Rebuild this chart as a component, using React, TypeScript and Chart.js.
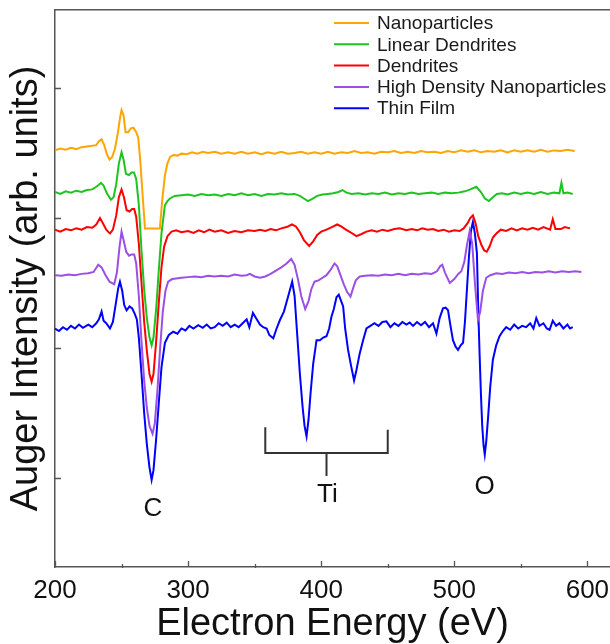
import React, { useEffect, useRef } from 'react';
import { Chart, registerables } from 'chart.js';

Chart.register(...registerables);

const FONT = "'Liberation Sans', Arial, Helvetica, sans-serif";

// ---- data (x: electron energy in eV, y: Auger intensity in arb. units, offset per sample) ----
const SERIES_NAMES = ['Nanoparticles', 'Linear Dendrites', 'Dendrites', 'High Density Nanoparticles', 'Thin Film'];
const SERIES_COLORS = ['#FFA500', '#1EC41E', '#FF0000', '#9B4FE6', '#0000FF'];

const NANOPARTICLES: [number, number][] = [
  [200, 25.2], [204, 25.35], [208, 25.25], [212, 25.4], [216, 25.3], [220, 25.45], [224, 25.5], [228, 25.55],
  [231, 25.6], [233, 25.9], [235, 26.05], [237, 25.6], [239, 24.9], [241, 24.5], [243, 24.7], [245, 25.3],
  [247, 26.4], [249, 27.8], [250, 28.3], [251.5, 27.9], [253, 26.6], [255, 26.6], [257, 26.9], [259, 26.95],
  [261, 26.6], [262.5, 26.2], [264, 24.5], [266, 21.5], [267.6, 19.2], [278.8, 19.2], [280.5, 21.3], [282.6, 23.3],
  [284.5, 24.2], [286.5, 24.7], [289, 24.85], [292, 24.8], [295, 24.95], [299, 24.9], [303, 25.05], [307, 24.95],
  [311, 25.1], [315, 25.0], [320, 25.1], [325, 24.95], [330, 25.05], [335, 24.95], [340, 25.1], [345, 24.95],
  [350, 25.05], [355, 24.9], [360, 25.05], [365, 24.95], [370, 25.1], [375, 24.95], [380, 25.0], [385, 25.1],
  [390, 24.95], [395, 25.05], [400, 24.95], [405, 25.1], [410, 24.95], [415, 25.05], [420, 25.0], [425, 25.15],
  [430, 25.0], [435, 25.05], [440, 24.95], [445, 25.1], [450, 25.05], [455, 25.15], [460, 25.0], [465, 25.1],
  [470, 25.0], [475, 25.15], [480, 25.05], [485, 25.1], [490, 25.0], [495, 25.15], [500, 25.05], [505, 25.2],
  [510, 25.1], [515, 25.2], [520, 25.05], [525, 25.15], [530, 25.1], [535, 25.2], [540, 25.05], [545, 25.2],
  [550, 25.1], [555, 25.2], [560, 25.1], [565, 25.25], [570, 25.1], [575, 25.2], [580, 25.15], [585, 25.25],
  [590.5, 25.15],
];

const LINEAR_DENDRITES: [number, number][] = [
  [200, 22.0], [204, 21.85], [208, 22.05], [212, 21.95], [216, 22.1], [220, 22.0], [224, 22.15], [228, 22.2],
  [231, 22.4], [233, 22.55], [234.5, 22.7], [236.5, 22.5], [239, 21.9], [242, 21.4], [244, 21.6], [246, 22.6],
  [248, 24.2], [250, 25.05], [251.5, 24.5], [253.3, 23.4], [255.5, 23.3], [257.5, 23.5], [259.3, 23.5], [261, 23.0],
  [263, 21.0], [265, 17.5], [267, 14.5], [269, 12.3], [271, 10.8], [272.6, 10.2], [274, 10.8], [276, 13.0],
  [278, 16.0], [280, 18.8], [282.6, 21.0], [284.5, 21.3], [286.3, 21.5], [290, 21.7], [295, 21.75], [300, 21.8],
  [305, 21.7], [310, 21.85], [315, 21.75], [320, 21.8], [325, 21.7], [330, 21.85], [335, 21.75], [340, 21.9],
  [345, 21.75], [350, 21.85], [355, 21.7], [360, 21.85], [365, 21.8], [370, 21.9], [375, 21.8], [380, 21.85],
  [384, 21.7], [387, 21.5], [390, 21.3], [393, 21.45], [397, 21.7], [401, 21.8], [405, 21.85], [409, 21.9],
  [413, 22.0], [416, 22.15], [419, 21.95], [423, 21.85], [428, 21.9], [433, 21.8], [438, 21.9], [443, 21.85],
  [448, 21.95], [453, 21.8], [458, 21.9], [463, 21.85], [468, 21.95], [473, 21.85], [478, 21.9], [483, 21.95],
  [488, 21.85], [493, 21.95], [498, 21.9], [503, 21.95], [508, 22.05], [512, 22.2], [516.6, 22.4], [520, 22.0],
  [523, 21.5], [526, 21.3], [529, 21.6], [532, 21.85], [536, 21.9], [540, 21.8], [545, 21.95], [550, 21.85],
  [555, 21.95], [560, 21.85], [565, 22.0], [570, 21.85], [575, 21.95], [579, 21.9], [580.5, 22.7], [582, 21.9],
  [585, 21.95], [589, 21.85],
];

const DENDRITES: [number, number][] = [
  [200, 19.1], [204, 18.95], [208, 19.15], [212, 19.05], [216, 19.2], [220, 19.1], [224, 19.3], [228, 19.25],
  [231, 19.5], [233.8, 20.0], [236, 19.6], [238.5, 19.1], [241.3, 18.8], [243.5, 19.1], [246, 20.2], [248, 21.6],
  [250, 22.2], [251.8, 21.6], [253.8, 20.6], [256, 20.5], [258, 20.7], [259.5, 20.7], [261, 20.1], [263, 18.0],
  [265, 15.0], [267, 12.0], [269, 9.8], [271, 8.0], [272.6, 7.4], [274, 8.0], [276, 10.5], [278, 13.5],
  [280, 16.2], [282, 17.8], [284.5, 18.6], [287.6, 18.95], [291, 19.05], [295, 18.9], [300, 19.0], [304, 18.85],
  [308, 19.05], [312, 18.9], [316, 19.1], [320, 18.95], [325, 19.05], [330, 18.85], [335, 19.0], [340, 18.9],
  [345, 19.05], [350, 19.0], [354, 19.1], [358, 19.0], [362, 19.15], [366, 19.05], [370, 19.2], [374, 19.3],
  [378, 19.5], [381, 19.35], [384, 18.9], [387, 18.3], [391, 17.85], [394, 18.2], [397, 18.7], [400, 18.95],
  [404, 19.1], [408, 19.3], [412, 19.5], [415, 19.35], [418, 19.15], [422, 18.9], [426.5, 18.6], [430, 18.75],
  [434, 18.95], [438, 19.05], [442, 18.95], [446, 19.1], [450, 19.0], [455, 19.15], [459, 19.2], [464, 19.05],
  [468, 19.15], [472, 19.05], [476, 19.2], [480, 19.1], [484, 19.15], [488, 19.0], [492, 19.1], [496, 18.95],
  [500, 19.05], [504, 19.0], [507, 19.2], [510, 19.6], [512, 20.0], [514, 20.2], [516, 19.6], [518, 18.6],
  [520.5, 17.9], [522.5, 17.5], [524.4, 17.4], [526.5, 17.8], [529, 18.5], [531.6, 18.8], [535, 19.1], [539, 19.0],
  [543, 19.2], [547, 19.05], [551, 19.2], [555, 19.1], [559, 19.25], [563, 19.1], [567, 19.3], [572, 19.1],
  [574, 19.9], [576, 19.15], [580, 19.15], [583, 19.3], [587, 19.2],
];

const HIGH_DENSITY_NP: [number, number][] = [
  [200, 15.6], [205, 15.55], [210, 15.65], [215, 15.6], [220, 15.7], [225, 15.75], [229, 15.85], [232.5, 16.4],
  [235, 16.2], [238, 15.6], [241, 15.1], [244.5, 14.9], [246.5, 15.8], [248.5, 17.8], [250, 18.95], [251.5, 18.3],
  [253.5, 17.4], [255.6, 17.1], [257.5, 17.2], [259.5, 17.2], [261, 16.5], [263, 14.0], [265, 10.5], [267, 7.5],
  [269, 5.4], [271, 4.0], [273.3, 3.4], [275, 4.2], [277, 6.8], [279, 10.0], [281, 12.8], [283, 14.4],
  [285, 15.1], [288, 15.3], [291, 15.35], [295, 15.4], [300, 15.45], [305, 15.5], [310, 15.45], [315, 15.55],
  [320, 15.5], [325, 15.55], [330, 15.5], [335, 15.65], [340, 15.55], [344, 15.6], [346.4, 15.7], [350, 15.5],
  [354, 15.4], [358, 15.5], [362, 15.7], [366, 15.95], [370, 16.2], [374, 16.5], [377.5, 16.85], [380, 16.4],
  [382.5, 15.3], [385, 14.0], [388, 13.0], [390.5, 13.6], [392.5, 14.5], [395, 15.1], [398, 15.2], [401, 15.4],
  [404, 15.6], [407, 16.0], [410, 16.5], [412, 16.3], [414.5, 15.6], [417, 14.9], [419.5, 14.3], [422, 13.95],
  [424, 14.6], [426, 15.2], [429, 15.5], [433, 15.55], [438, 15.6], [443, 15.55], [448, 15.65], [453, 15.6],
  [458, 15.7], [463, 15.6], [468, 15.7], [473, 15.65], [478, 15.75], [483, 15.7], [487, 15.9], [489.5, 16.3],
  [491, 16.4], [493, 15.8], [496.6, 15.0], [500, 15.3], [503, 15.7], [505.3, 15.9], [507.5, 16.6], [509.5, 17.9],
  [511.6, 19.0], [513.5, 18.0], [515.5, 15.0], [517.8, 12.15], [519.5, 12.8], [521.5, 14.4], [524, 15.4], [527, 15.6],
  [531.6, 15.75], [536, 15.7], [541, 15.8], [546, 15.75], [551, 15.85], [556, 15.75], [561, 15.85], [566, 15.8],
  [571, 15.9], [576, 15.8], [581, 15.9], [586, 15.85], [591, 15.9], [595.5, 15.85],
];

const THIN_FILM: [number, number][] = [
  [200, 11.5], [203, 11.3], [206, 11.6], [209, 11.4], [212, 11.7], [215, 11.5], [218, 11.8], [221, 11.55],
  [225, 11.8], [228, 11.6], [231, 11.9], [233, 12.2], [235, 12.8], [236.5, 12.1], [238.5, 11.9], [241.3, 11.5],
  [243.5, 12.0], [245.5, 13.3], [247.5, 14.6], [248.8, 15.1], [250.5, 14.4], [252, 13.3], [253.8, 12.9], [256, 13.2],
  [258, 13.05], [260, 12.6], [261.5, 12.2], [263, 10.8], [265, 8.0], [267, 5.0], [269, 2.6], [271, 0.8],
  [272.6, -0.15], [274, 0.6], [276, 3.0], [278, 5.8], [280, 8.5], [282.6, 10.4], [285.5, 11.0], [288.8, 11.25],
  [292, 11.1], [295, 11.5], [298, 11.35], [301, 11.7], [304, 11.5], [307.6, 11.75], [311, 11.55], [314, 11.8],
  [317, 11.5], [320, 11.6], [323, 11.9], [326, 11.7], [329, 11.95], [332, 11.6], [335, 11.8], [338, 11.6],
  [341, 11.9], [344, 12.2], [346, 11.6], [348.7, 12.7], [351, 12.3], [354, 11.8], [356.4, 11.6], [359, 11.5],
  [361, 11.0], [364, 10.75], [366.5, 11.5], [369, 12.15], [372, 12.8], [375, 13.9], [378.2, 15.1], [380, 14.0],
  [382, 11.0], [384, 8.0], [386, 5.5], [387.5, 4.0], [389, 3.2], [390.5, 4.5], [392, 6.5], [394, 8.8],
  [396.5, 10.6], [399, 10.6], [401.5, 10.8], [404, 10.9], [406, 11.5], [407.7, 12.4], [409.5, 13.0], [411.5, 13.9],
  [413.2, 14.1], [415, 13.6], [416.5, 13.2], [418, 11.5], [420.2, 9.85], [422.5, 8.6], [424.7, 7.5], [426.5, 8.3],
  [429, 9.6], [431.5, 10.6], [434, 11.5], [437, 11.7], [440, 11.9], [443, 11.7], [446, 12.0], [449, 12.05],
  [452, 11.6], [455, 11.9], [458, 11.7], [461, 12.0], [464, 11.8], [466.5, 11.95], [469, 11.7], [472, 12.0],
  [475, 11.75], [478, 12.0], [481, 11.6], [484, 11.9], [486.6, 11.1], [489, 12.3], [491.5, 13.05], [493.5, 13.1],
  [495.3, 12.9], [497, 11.8], [499, 10.6], [501, 10.1], [502.8, 9.85], [504.8, 10.2], [506.6, 10.4], [508, 12.0],
  [509.5, 14.5], [511, 17.0], [512.5, 19.0], [514, 19.7], [515.5, 18.8], [517, 17.3], [518, 13.0], [519, 9.6],
  [520, 6.5], [521, 4.0], [522, 2.5], [522.9, 1.8], [524, 2.8], [525.5, 4.8], [527, 7.0], [529, 9.1],
  [531.5, 10.2], [534, 10.9], [536.5, 11.3], [539, 11.6], [542, 11.4], [545, 11.8], [548, 11.5], [551, 11.7],
  [554, 11.6], [557, 11.9], [559.5, 11.5], [561.6, 12.3], [564, 11.7], [567, 11.9], [569.5, 11.5], [571.6, 11.4],
  [574, 12.1], [576.5, 11.7], [579, 11.9], [582, 11.5], [585, 11.8], [587, 11.5], [589, 11.6],
];

const SERIES_DATA = [NANOPARTICLES, LINEAR_DENDRITES, DENDRITES, HIGH_DENSITY_NP, THIN_FILM];

// ---- axes ----
const X_MIN = 200;
const X_MAX = 617;
const X_TICKS = [200, 300, 400, 500, 600];
const X_MINOR_TICKS = [250, 350, 450, 550];
const Y_MIN = -6.85;
const Y_MAX = 36;
const Y_TICKS = [0, 10, 20, 30];

// ---- peak annotations ----
const PEAK_LABELS = ['C', 'Ti', 'O'];
const PEAK_LABEL_X = [273.6, 404.6, 522.8];
const PEAK_LABEL_Y = [-2.38, -1.3, -0.65];
// Ti bracket (eV / intensity units)
const BRACKET_X = [358, 450];
const BRACKET_TOP_Y = [3.9, 3.7];
const BRACKET_BASE_Y = 1.92;
const BRACKET_STEM_X = 404;
const BRACKET_STEM_BOTTOM_Y = 0.15;

const overlayPlugin = {
  id: 'overlay',
  afterDraw(chart: any) {
    const { ctx, chartArea } = chart;
    const x = chart.scales.x;
    const y = chart.scales.y;
    ctx.save();

    // inside tick marks
    ctx.strokeStyle = '#555';
    ctx.lineWidth = 1.3;
    ctx.beginPath();
    for (const t of X_TICKS) {
      const px = Math.round(x.getPixelForValue(t)) + 0.5;
      ctx.moveTo(px, chartArea.bottom);
      ctx.lineTo(px, chartArea.bottom - 6);
    }
    for (const t of X_MINOR_TICKS) {
      const px = Math.round(x.getPixelForValue(t)) + 0.5;
      ctx.moveTo(px, chartArea.bottom + 1);
      ctx.lineTo(px, chartArea.bottom - 3);
    }
    for (const t of Y_TICKS) {
      const py = Math.round(y.getPixelForValue(t)) + 0.5;
      ctx.moveTo(chartArea.left, py);
      ctx.lineTo(chartArea.left + 6, py);
    }
    ctx.stroke();

    // Ti bracket
    ctx.strokeStyle = '#333';
    ctx.lineWidth = 2;
    ctx.beginPath();
    const bl = x.getPixelForValue(BRACKET_X[0]);
    const br = x.getPixelForValue(BRACKET_X[1]);
    const bb = y.getPixelForValue(BRACKET_BASE_Y);
    ctx.moveTo(bl, y.getPixelForValue(BRACKET_TOP_Y[0]));
    ctx.lineTo(bl, bb);
    ctx.lineTo(br, bb);
    ctx.lineTo(br, y.getPixelForValue(BRACKET_TOP_Y[1]));
    const sx = x.getPixelForValue(BRACKET_STEM_X);
    ctx.moveTo(sx, bb);
    ctx.lineTo(sx, y.getPixelForValue(BRACKET_STEM_BOTTOM_Y));
    ctx.stroke();

    // peak labels
    ctx.fillStyle = '#111';
    ctx.font = `26px ${FONT}`;
    ctx.textAlign = 'center';
    ctx.textBaseline = 'middle';
    PEAK_LABELS.forEach((lab, i) => {
      ctx.fillText(lab, x.getPixelForValue(PEAK_LABEL_X[i]), y.getPixelForValue(PEAK_LABEL_Y[i]));
    });

    // legend
    const lx = 334;
    const ly = 23;
    const step = 21.3;
    ctx.font = `19px ${FONT}`;
    ctx.textAlign = 'left';
    ctx.textBaseline = 'middle';
    chart.data.datasets.forEach((ds: any, i: number) => {
      const yy = ly + i * step;
      ctx.strokeStyle = ds.borderColor;
      ctx.lineWidth = 2;
      ctx.beginPath();
      ctx.moveTo(lx, yy);
      ctx.lineTo(lx + 35, yy);
      ctx.stroke();
      ctx.fillStyle = '#1a1a1a';
      ctx.fillText(ds.label, lx + 43, yy + 1);
    });

    ctx.restore();
  },
};

export default function App() {
  const ref = useRef<HTMLCanvasElement | null>(null);

  useEffect(() => {
    document.body.style.margin = '0';
    const canvas = ref.current;
    if (!canvas) return;
    const datasets = SERIES_NAMES.map((name, i) => ({
      label: name,
      data: SERIES_DATA[i].map(([e, v]) => ({ x: e, y: v })),
      borderColor: SERIES_COLORS[i],
      backgroundColor: SERIES_COLORS[i],
      borderWidth: 2,
      pointRadius: 0,
      tension: 0,
      fill: false,
    }));

    const chart = new Chart(canvas, {
      type: 'line',
      data: { datasets },
      options: {
        animation: false,
        responsive: false,
        devicePixelRatio: 1,
        layout: { padding: { left: 0, right: 0, top: 0, bottom: 0 } },
        plugins: {
          legend: { display: false },
          tooltip: { enabled: false },
        },
        scales: {
          x: {
            type: 'linear',
            position: 'bottom',
            min: X_MIN,
            max: X_MAX,
            afterBuildTicks: (s: any) => {
              s.ticks = X_TICKS.map((v) => ({ value: v }));
            },
            afterFit: (s: any) => {
              s.height = 77;
              s.paddingLeft = 0;
              s.paddingRight = 0;
            },
            grid: { display: false, drawTicks: false },
            border: { display: true, color: '#555', width: 1.5 },
            ticks: {
              autoSkip: false,
              maxRotation: 0,
              padding: 8,
              color: '#111',
              font: { family: FONT, size: 26 },
            },
            title: {
              display: true,
              text: 'Electron Energy (eV)',
              color: '#111',
              font: { family: FONT, size: 38, lineHeight: 1 },
              padding: { top: 0, bottom: 0 },
            },
          },
          xTop: {
            type: 'linear',
            position: 'top',
            min: X_MIN,
            max: X_MAX,
            afterFit: (s: any) => {
              s.height = 10;
              s.paddingLeft = 0;
              s.paddingRight = 0;
            },
            grid: { display: false, drawTicks: false },
            border: { display: true, color: '#555', width: 1.5 },
            ticks: { display: false },
          },
          y: {
            type: 'linear',
            position: 'left',
            min: Y_MIN,
            max: Y_MAX,
            afterBuildTicks: (s: any) => {
              s.ticks = Y_TICKS.map((v) => ({ value: v }));
            },
            afterFit: (s: any) => {
              s.width = 55;
              s.paddingTop = 0;
              s.paddingBottom = 0;
            },
            grid: { display: false, drawTicks: false },
            border: { display: true, color: '#555', width: 1.5 },
            ticks: { display: false },
            title: {
              display: true,
              text: 'Auger Intensity (arb. units)',
              color: '#111',
              font: { family: FONT, size: 38, lineHeight: 1 },
              padding: { top: 8, bottom: 0 },
            },
          },
        },
      },
      plugins: [overlayPlugin],
    } as any);

    return () => chart.destroy();
  }, []);

  return (
    <div style={{ width: 610, height: 644, position: 'relative', background: '#fff' }}>
      <canvas ref={ref} width={610} height={644} />
    </div>
  );
}
